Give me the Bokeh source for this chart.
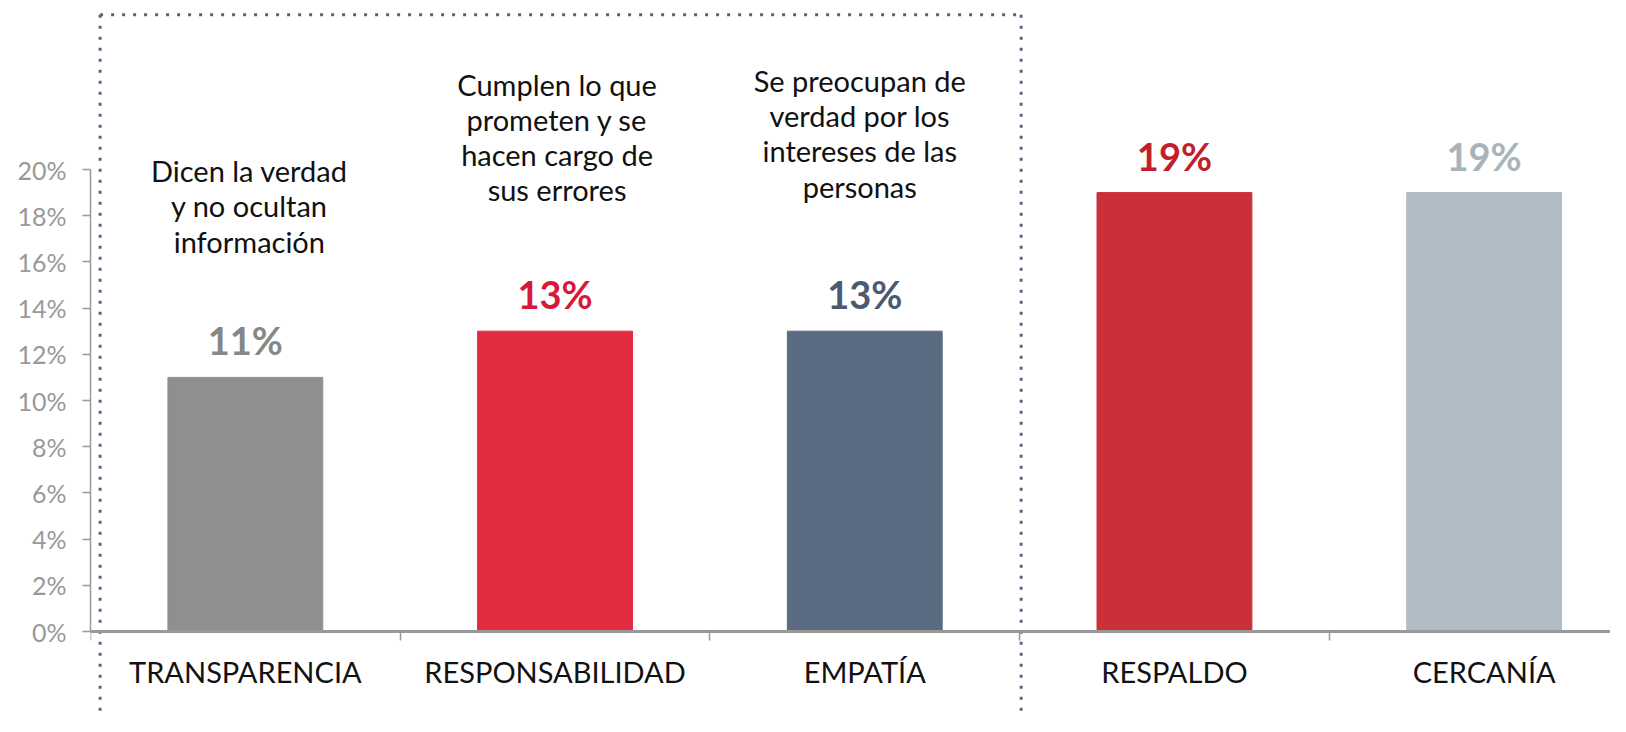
from bokeh.plotting import figure
from bokeh.models import FixedTicker, Range1d, ColumnDataSource
from bokeh.core.properties import value
from bokeh.embed import file_html
from bokeh.resources import INLINE

# ---- data ----
categories = ["TRANSPARENCIA", "RESPONSABILIDAD", "EMPATÍA", "RESPALDO", "CERCANÍA"]
values = [11, 13, 13, 19, 19]
value_labels = ["11%", "13%", "13%", "19%", "19%"]
bar_colors = ["#8f8f8f", "#e22b3f", "#5b6b82", "#c93037", "#b0bcc4"]
label_colors = ["#878787", "#d8183a", "#4b5a72", "#c21f2d", "#a8b4bc"]
descriptions = [
    ["Dicen la verdad", "y no ocultan", "información"],
    ["Cumplen lo que", "prometen y se", "hacen cargo de", "sus errores"],
    ["Se preocupan de", "verdad por los", "intereses de las", "personas"],
]
y_ticks = [0, 2, 4, 6, 8, 10, 12, 14, 16, 18, 20]

# ---- layout ----
W, H = 1610, 716
LEFT = 90
PX_PER_UNIT = 23.1
BASE_Y = 631  # baseline in figure px
CAT_W = 309.7

y_top = BASE_Y / PX_PER_UNIT
y_bot = -(H - BASE_Y) / PX_PER_UNIT
x_right = (W - LEFT) / CAT_W

p = figure(width=W, height=H, output_backend="svg", toolbar_location=None,
           x_range=Range1d(0, x_right), y_range=Range1d(y_bot, y_top),
           min_border_left=LEFT, min_border_right=0, min_border_top=0,
           min_border_bottom=0, outline_line_color=None,
           background_fill_color="white", border_fill_color="white")
p.grid.visible = False

centers = [i + 0.5 for i in range(len(categories))]
src = ColumnDataSource(dict(x=centers, top=values, color=bar_colors,
                            lab=value_labels, lcolor=label_colors, cat=categories))

p.vbar(x="x", top="top", bottom=0, width=0.5, color="color", source=src)

# value labels
p.text(x="x", y="top", text="lab", text_color="lcolor", source=src,
       text_font=value("Lato"), text_font_style="bold", text_font_size="38px",
       text_align="center", text_baseline="alphabetic", y_offset=-37)

# category labels below baseline
p.text(x="x", y=0, text="cat", source=src, text_color="#111111",
       text_font=value("Lato"), text_font_size="29px",
       text_align="center", text_baseline="middle", y_offset=40)

# descriptions above first three bars
anchors = [19.95, 23.7, 23.85]
x_shift = [4, 2, -5]
for i, lines in enumerate(descriptions):
    for j, line in enumerate(lines):
        p.text(x=[centers[i]], y=[anchors[i]], text=[line], text_color="#111111",
               text_font=value("Lato"), text_font_size="29px",
               text_align="center", text_baseline="middle",
               x_offset=x_shift[i], y_offset=j * 35.2)

# dotted box around first three categories
box_left = 0.031
box_right = 3.005
box_top = 26.7
dot_col = "#55657f"
p.segment(x0=[box_left, box_right, box_left], x1=[box_left, box_right, box_right],
          y0=[box_top, box_top, box_top], y1=[y_bot - 1, y_bot - 1, box_top],
          line_color=dot_col, line_width=3, line_dash="3 8")

# axes
yax = p.yaxis[0]
yax.ticker = FixedTicker(ticks=y_ticks, minor_ticks=[])
yax.bounds = (0, 20)
yax.major_label_overrides = {t: f"{t}%" for t in y_ticks}
yax.axis_line_color = "#999999"
yax.axis_line_width = 1.5
yax.major_tick_line_color = "#999999"
yax.major_tick_line_width = 1.5
yax.major_tick_out = 8
yax.major_tick_in = 0
yax.minor_tick_line_color = None
yax.major_label_text_font = "Lato"
yax.major_label_text_font_size = "25px"
yax.major_label_text_color = "#999999"
yax.major_label_standoff = 16

xax = p.xaxis[0]
xax.fixed_location = 0
xax.ticker = FixedTicker(ticks=[0, 1, 2, 3, 4, 5], minor_ticks=[])
xax.axis_line_color = "#999999"
xax.axis_line_width = 3
xax.major_tick_line_color = "#999999"
xax.major_tick_line_width = 1.5
xax.major_tick_out = 9
xax.major_tick_in = 0
xax.minor_tick_line_color = None
xax.major_label_text_font_size = "0px"
xax.major_label_text_color = None
xax.major_label_standoff = 0

open("out.html", "w").write(file_html(p, INLINE))
